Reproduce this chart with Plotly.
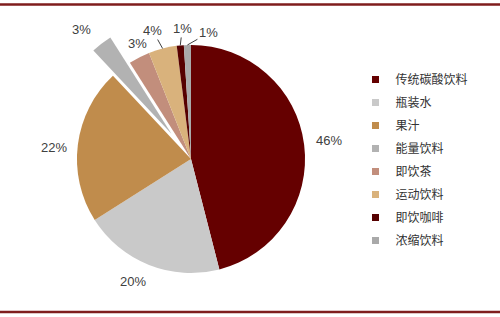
import math
import plotly.graph_objects as go

categories = ["传统碳酸饮料", "瓶装水", "果汁", "能量饮料", "即饮茶", "运动饮料", "即饮咖啡", "浓缩饮料"]
shares = [46, 20, 22, 3, 3, 4, 1, 1]
colors = ["#650000", "#C9C9C9", "#C08C4C", "#B2B2B2", "#C28E7C", "#D9B27C", "#560000", "#A9A9A9"]
pulls = [0, 0, 0, 0.28, 0, 0, 0, 0]
label_text = [f"{v}%" for v in shares]

W, H = 500, 317
dom_x = [0.09, 0.674]
dom_y = [0.038, 0.959]

fig = go.Figure()
fig.add_trace(go.Pie(
    labels=categories, values=shares, sort=False, direction="clockwise", rotation=0,
    marker=dict(colors=colors, line=dict(width=0)),
    pull=pulls, automargin=False, textinfo="none",
    showlegend=False, hoverinfo="label+percent",
    domain=dict(x=dom_x, y=dom_y),
))

# geometry of the pie (same rule plotly uses) to anchor the slice labels
cx = (dom_x[0] + dom_x[1]) / 2
cy = (dom_y[0] + dom_y[1]) / 2
r_px = min((dom_x[1] - dom_x[0]) * W, (dom_y[1] - dom_y[0]) * H) / (2 + 2 * max(pulls))
total = sum(shares)

def edge_point(i):
    start = sum(shares[:i])
    mid = (start + shares[i] / 2) / total * 2 * math.pi
    rr = r_px * (1 + pulls[i])
    return cx + rr * math.sin(mid) / W, cy + rr * math.cos(mid) / H

# label placement: (dx, dy) px offset of the text centre from the slice edge, leader line or not
label_style = {0: (25, -4, False), 1: (-16, 16, False), 2: (-24, 3, False),
               3: (-20, -14, False), 4: (-2, -14, False), 5: (-10, -18, True),
               6: (2, -17, True), 7: (21, -12, True)}
lab_font = dict(family="Liberation Sans, Arial", size=13, color="#404040")
annotations = []
for i, (dx, dy, arrow) in label_style.items():
    x, y = edge_point(i)
    if arrow:
        annotations.append(dict(x=x, y=y, xref="paper", yref="paper", text=label_text[i],
                                showarrow=True, arrowhead=0, arrowwidth=1, arrowcolor="#404040",
                                ax=dx, ay=dy, standoff=0, xanchor="center", yanchor="middle",
                                font=lab_font))
    else:
        annotations.append(dict(x=x, y=y, xref="paper", yref="paper", text=label_text[i],
                                showarrow=False, xshift=dx, yshift=-dy,
                                xanchor="center", yanchor="middle", font=lab_font))

for i, (c, col) in enumerate(zip(categories, colors)):
    fig.add_trace(go.Scatter(
        x=[None], y=[None], mode="markers", name=c, legendgroup=f"g{i}",
        marker=dict(symbol="square", size=7, color=col),
    ))

fig.update_layout(
    width=W, height=H, margin=dict(l=0, r=0, t=0, b=0, autoexpand=False),
    paper_bgcolor="white", plot_bgcolor="white",
    xaxis=dict(visible=False), yaxis=dict(visible=False),
    legend=dict(x=0.711, y=0.795, xanchor="left", yanchor="top",
                font=dict(family="Noto Sans CJK SC", size=12, color="#333333"),
                tracegroupgap=4, traceorder="grouped", bgcolor="rgba(0,0,0,0)"),
    annotations=annotations,
    shapes=[
        dict(type="line", xref="paper", yref="paper", x0=0, x1=1, y0=0.986, y1=0.986,
             line=dict(color="#7F1D1D", width=2.5)),
        dict(type="line", xref="paper", yref="paper", x0=0, x1=1, y0=0.016, y1=0.016,
             line=dict(color="#7F1D1D", width=2.5)),
    ],
)

fig.write_html("out.html")
